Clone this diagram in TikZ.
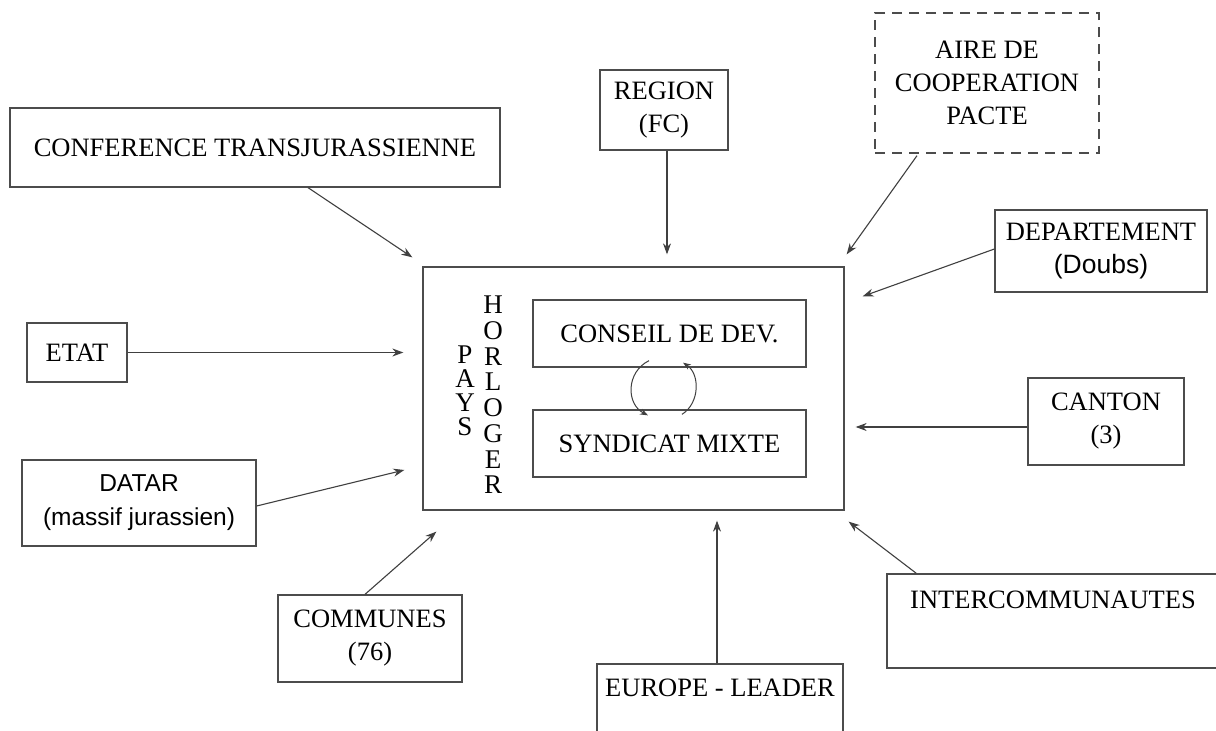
\documentclass[tikz,border=0pt]{standalone}
\usepackage{fontspec}
\setmainfont{Liberation Serif}
\setsansfont{Liberation Sans}
\usetikzlibrary{arrows.meta,calc}
\begin{document}
\begin{tikzpicture}[x=1pt,y=-1pt,
  box/.style={draw=black!70,line width=1.3pt,inner sep=0pt,align=center,
     font=\fontsize{26.5}{33}\selectfont},
  arr/.style={draw=black!75,line width=1.1pt,-{Stealth[length=11pt,width=8pt]}},
  vert/.style={inner sep=0pt,align=center}]
\clip (0,0) rectangle (1216,731);
\fill[white] (0,0) rectangle (1216,731);

% central box
\node[box,minimum width=421,minimum height=243] (pays) at (633.5,388.5) {};
\node[box,minimum width=273,minimum height=67] (conseil) at (669.5,333.5) {CONSEIL DE DEV.};
\node[box,minimum width=273,minimum height=67] (synd) at (669.5,443.5) {SYNDICAT MIXTE};
\node[vert,font=\fontsize{27}{24}\selectfont] (paysl) at (465,391) {P\\A\\Y\\S};
\node[vert,font=\fontsize{27}{25.7}\selectfont] (horl) at (493,395) {H\\O\\R\\L\\O\\G\\E\\R};

% outer boxes
\node[box,minimum width=490,minimum height=79] (conf) at (255,147.5) {CONFERENCE TRANSJURASSIENNE};
\node[box,minimum width=128,minimum height=80] (region) at (664,110) {REGION\\(FC)};
\node[box,dashed,dash pattern=on 10pt off 7pt,minimum width=224,minimum height=140] (aire) at (987,83) {AIRE DE\\COOPERATION\\PACTE};
\node[box,minimum width=212,minimum height=82] (dept) at (1101,251) {DEPARTEMENT\\{\sffamily (Doubs)}};
\node[box,minimum width=100,minimum height=59] (etat) at (77,352.5) {ETAT};
\node[box,minimum width=156,minimum height=87] (canton) at (1106,421.5) {CANTON\\(3)};
\node[box,minimum width=234,minimum height=86,font=\sffamily\fontsize{24.5}{34}\selectfont] (datar) at (139,503) {DATAR\\(massif jurassien)};
\node[box,minimum width=184,minimum height=87] (communes) at (370,638.5) {COMMUNES\\(76)};
\node[box,minimum width=246,minimum height=90] (europe) at (720,709) {EUROPE - LEADER\\\strut};
\node[box,minimum width=332,minimum height=94] (inter) at (1053,621) {INTERCOMMUNAUTES\\\strut};

% connectors
\draw[arr] ($(conf.south)+(53,0)$) -- ($(pays.north west)+(-10,-9)$);
\draw[arr] ($(region.south)+(3,0)$) -- ($(pays.north)+(33.5,-12)$);
\draw[arr] ($(aire.south)+(-70,2)$) -- ($(pays.north east)+(2,-12)$);
\draw[arr] ($(dept.west)+(0,-2)$) -- ($(pays.north east)+(18,30)$);
\draw[arr] (etat.east) -- ($(pays.west)+(-19,-36)$);
\draw[arr] ($(canton.west)+(0,5.5)$) -- ($(pays.east)+(11,38.5)$);
\draw[arr] ($(datar.east)+(0,3)$) -- ($(pays.west)+(-18,81.5)$);
\draw[arr] ($(communes.north)+(-5,0)$) -- ($(pays.south west)+(14,21)$);
\draw[arr] ($(europe.north)+(-3,0)$) -- ($(pays.south)+(83.5,10)$);
\draw[arr] ($(inter.north west)+(30,0)$) -- ($(pays.south east)+(4,11)$);

% circular arrows between the two inner boxes
\coordinate (la) at ($(conseil.south)+(-20.5,-7)$);
\coordinate (lb) at ($(synd.north)+(-21.5,6)$);
\coordinate (ra) at ($(synd.north)+(12.5,5)$);
\coordinate (rb) at ($(conseil.south)+(13.5,-5)$);
\draw[arr,line width=1pt,-{Stealth[length=8pt,width=6pt]}] (la) .. controls (626,372) and (626,404) .. (lb);
\draw[arr,line width=1pt,-{Stealth[length=8pt,width=6pt]}] (ra) .. controls (700,403) and (700,374) .. (rb);
\end{tikzpicture}
\end{document}
